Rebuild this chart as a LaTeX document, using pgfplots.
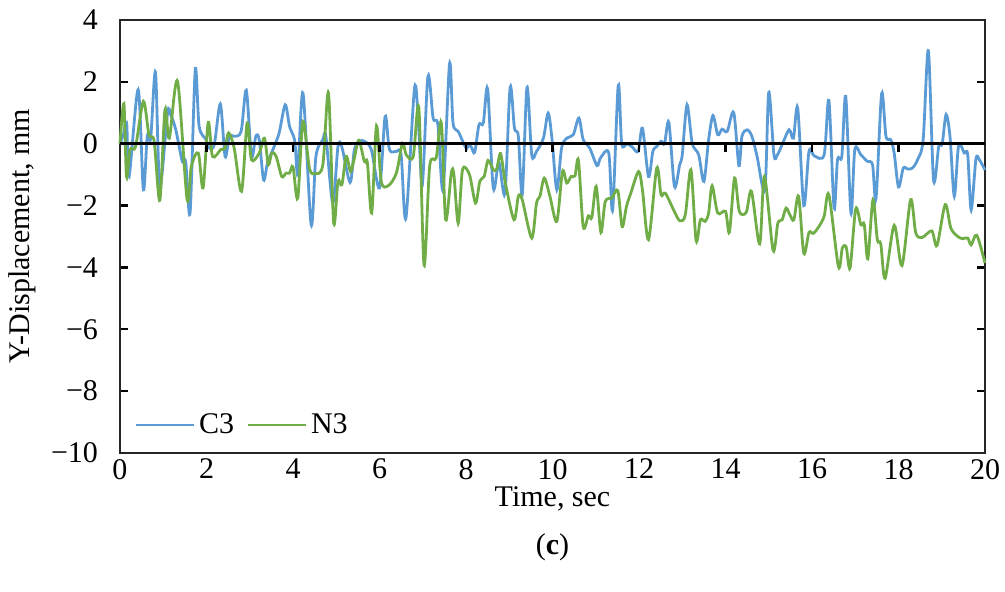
\documentclass[border=0pt]{standalone}
\usepackage{pgfplots}
\pgfplotsset{compat=1.18}
\usepackage{fontspec}
\setmainfont{Liberation Serif}
\definecolor{cblue}{HTML}{5B9BD5}
\definecolor{cgreen}{HTML}{70AD47}
\newcommand\lbl{\fontsize{15}{18}\selectfont}

\pgfplotstableread{
t v
0 0
0.08 0.3
0.155 0.65
0.21 -1.06
0.42 1.75
0.54 -1.49
0.63 0.24
0.71 0.18
0.82 2.31
0.92 -1.38
1.10 1.0
1.17 0.94
1.29 0.45
1.44 -0.57
1.52 -0.6
1.62 -2.24
1.74 2.39
1.83 0.56
1.99 0.13
2.06 -0.14
2.18 -0.03
2.32 1.28
2.43 -0.41
2.53 0.24
2.64 0.24
2.80 0.40
2.92 1.73
3.04 -0.41
3.14 0.24
3.22 0.13
3.32 -1.17
3.41 -0.63
3.55 -0.14
3.68 0.35
3.82 1.26
3.92 0.56
4.04 0.1
4.11 -0.95
4.23 1.64
4.42 -2.62
4.53 -0.41
4.69 0.13
4.76 0.24
4.92 -1.92
5.04 -0.09
5.13 -0.11
5.32 -1.25
5.42 -0.19
5.54 0.08
5.65 0.08
5.81 -0.19
6.00 -1.43
6.13 0.88
6.23 -0.19
6.39 -0.25
6.50 -0.36
6.61 -2.41
6.81 1.80
6.90 0.67
6.99 -1.33
7.12 2.18
7.24 0.83
7.35 0.61
7.47 -1.49
7.62 2.59
7.70 0.67
7.82 0.40
8.00 -0.14
8.05 -0.06
8.12 -0.1
8.20 -0.28
8.30 0.61
8.40 0.67
8.50 1.77
8.63 -1.43
8.76 -0.6
8.90 -1.6
9.02 1.82
9.12 0.51
9.21 0.24
9.30 -1.65
9.41 1.82
9.52 -0.36
9.63 -0.25
9.79 0.18
9.90 0.99
9.99 0.13
10.10 -1.49
10.21 -0.14
10.33 0.18
10.48 0.29
10.61 0.83
10.71 0.13
10.86 -0.14
11.03 -0.71
11.11 -0.46
11.30 -0.30
11.39 -2.14
11.52 1.89
11.60 0
11.72 0
11.84 -0.1
11.98 -0.25
12.08 0.5
12.22 -1.06
12.32 -0.25
12.41 -0.09
12.51 0.08
12.59 0
12.69 0.69
12.82 -1.38
12.94 -0.68
13.0 -0.36
13.11 1.26
13.23 0.02
13.38 -0.36
13.50 -1.22
13.61 0.13
13.71 0.91
13.82 0.29
13.92 0.47
14.04 0.40
14.19 1.01
14.31 -0.71
14.38 0.24
14.50 0.45
14.61 0.24
14.73 -0.41
14.91 -1.49
15.00 1.66
15.12 -0.36
15.20 -0.36
15.31 -0.03
15.47 0.45
15.57 0.18
15.67 1.15
15.81 -2.0
15.93 -0.25
16.05 -0.39
16.28 -0.36
16.39 1.40
16.51 -2.08
16.59 -0.52
16.69 -0.4
16.78 1.53
16.90 -2.24
16.99 -0.19
17.13 -0.36
17.28 -0.57
17.40 -0.68
17.48 -1.78
17.61 1.62
17.71 0.24
17.82 0.13
17.90 -0.30
18.00 -1.40
18.11 -0.79
18.21 -0.82
18.32 -0.79
18.44 -0.52
18.57 0.13
18.69 3.01
18.81 -1.17
18.93 -0.09
19.01 0
19.10 0.94
19.19 0.24
19.29 -1.70
19.39 -0.06
19.52 -0.30
19.60 -0.36
19.68 -2.14
19.79 -0.50
19.87 -0.52
20.00 -0.85
}\cthree

\pgfplotstableread{
t v
0 0
0.09 1.29
0.15 -1.06
0.23 -0.19
0.36 -0.09
0.54 1.37
0.67 0.29
0.79 0.08
0.92 -1.83
1.04 1.10
1.14 0.18
1.33 2.02
1.55 -1.79
1.65 -0.73
1.81 -0.30
1.92 -1.43
2.04 0.69
2.14 -0.41
2.33 -0.19
2.43 -0.14
2.51 0.35
2.64 -0.14
2.81 -1.54
2.94 0.67
3.04 -0.52
3.22 -0.30
3.34 0.18
3.43 -0.68
3.51 -0.30
3.61 -0.41
3.74 -1.06
3.84 -0.95
3.92 -0.95
4.00 -0.75
4.11 -1.76
4.23 0.72
4.38 -0.79
4.52 -0.97
4.69 -0.68
4.82 1.64
4.94 -2.55
5.04 -1.22
5.13 -1.33
5.23 -0.41
5.33 -0.90
5.41 -0.52
5.52 0.11
5.65 -0.57
5.72 -0.62
5.82 -2.24
5.93 0.58
6.04 -1.22
6.20 -1.36
6.39 -0.95
6.53 0.02
6.62 -0.36
6.78 -0.41
6.91 1.15
7.03 -3.92
7.16 -0.73
7.31 -0.46
7.43 0.67
7.53 -2.46
7.66 -0.95
7.72 -1.0
7.82 -2.57
7.92 -0.84
8.08 -1.0
8.22 -1.92
8.32 -1.22
8.42 -1.06
8.51 -0.54
8.63 -0.84
8.71 -0.82
8.80 -0.32
8.91 -1.27
9.11 -2.46
9.21 -1.70
9.30 -1.81
9.52 -3.05
9.63 -1.92
9.71 -1.70
9.81 -1.11
9.94 -1.70
10.10 -2.51
10.23 -0.90
10.33 -1.27
10.43 -1.06
10.52 -1.04
10.60 -0.54
10.71 -2.68
10.83 -2.33
10.91 -2.38
11.01 -1.38
11.12 -2.87
11.22 -1.87
11.37 -1.76
11.51 -1.52
11.61 -2.68
11.71 -2.03
11.81 -1.60
11.99 -0.90
12.08 -1.5
12.22 -3.10
12.41 -0.79
12.51 -1.65
12.61 -1.60
12.80 -2.14
12.94 -2.49
13.07 -2.30
13.20 -0.84
13.32 -3.13
13.42 -2.46
13.53 -2.51
13.61 -2.24
13.69 -1.36
13.82 -2.24
14.00 -2.19
14.09 -2.86
14.21 -1.11
14.32 -2.19
14.48 -2.22
14.60 -1.54
14.79 -3.24
14.90 -1.06
15.10 -3.45
15.21 -2.57
15.31 -2.46
15.40 -2.08
15.49 -2.30
15.58 -2.46
15.69 -1.70
15.81 -3.54
15.93 -2.87
16.03 -2.90
16.15 -2.70
16.28 -2.35
16.39 -1.65
16.61 -3.97
16.70 -3.38
16.79 -3.34
16.88 -4.02
17.01 -2.11
17.13 -2.62
17.21 -2.62
17.29 -3.72
17.41 -1.81
17.51 -3.10
17.59 -3.24
17.69 -4.35
17.90 -2.64
18.08 -3.94
18.28 -1.81
18.40 -2.89
18.55 -3.03
18.77 -2.82
18.89 -3.29
19.08 -1.97
19.21 -2.73
19.37 -3.00
19.48 -3.07
19.60 -3.05
19.68 -3.27
19.81 -2.96
20.00 -3.86
}\nthree

\begin{document}
\begin{tikzpicture}
\path[use as bounding box] (-60pt,-69.5pt) rectangle (442.5pt,226.5pt);
\begin{axis}[
  at={(0,0)}, anchor=south west,
  width=432.5pt, height=216.5pt, scale only axis,
  xmin=0, xmax=20, ymin=-10, ymax=4,
  xtick={0,2,...,20},
  xticklabels={0,2,4,6,8,10,12,14,16,18,20},
  ytick={-10,-8,...,4},
  yticklabels={−10,−8,−6,−4,−2,0,2,4},
  axis line style={line width=1.2pt, black!85},
  xtick style={draw=none},
  ytick style={line width=1.2pt, black},
  tick align=inside,
  major tick length=4pt,
  ticklabel style={font=\lbl},
  xticklabel style={yshift=0.5pt},
  yticklabel style={xshift=-7.5pt},
  label style={font=\lbl},
  xlabel={Time, sec},
  ylabel={Y-Displacement, mm},
  xlabel style={at={(axis description cs:0.5,-0.106)}, anchor=center},
  ylabel style={at={(axis description cs:-0.1135,0.5)}, anchor=center},
  clip=false,
  legend columns=2,
  legend style={at={(axis description cs:0.0162,0.0647)}, anchor=west,
    draw=none, fill=none, font=\lbl, inner sep=0pt,
    /tikz/every even column/.append style={column sep=4pt}},
  legend image code/.code={\draw[#1] (0pt,0pt) -- (29pt,0pt);},
]
\addplot[cblue, line width=1.4pt, smooth] table[x=t,y=v] {\cthree};
\addlegendentry{C3}
\addplot[cgreen, line width=1.4pt, smooth] table[x=t,y=v] {\nthree};
\addlegendentry{N3}
\node[font=\lbl] at (axis description cs:0.5,-0.217) {(\textbf{c})};
\end{axis}
\begin{axis}[
  at={(0,0)}, anchor=south west,
  width=432.5pt, height=216.5pt, scale only axis,
  xmin=0, xmax=20, ymin=-10, ymax=4,
  axis x line=middle, axis y line=none,
  x axis line style={-, line width=1.5pt, black},
  xtick={2,4,...,18}, xticklabels={}, ytick=\empty,
  tick align=outside, major tick length=4pt,
  xtick style={line width=1.2pt, black},
]
\end{axis}
\end{tikzpicture}
\end{document}
